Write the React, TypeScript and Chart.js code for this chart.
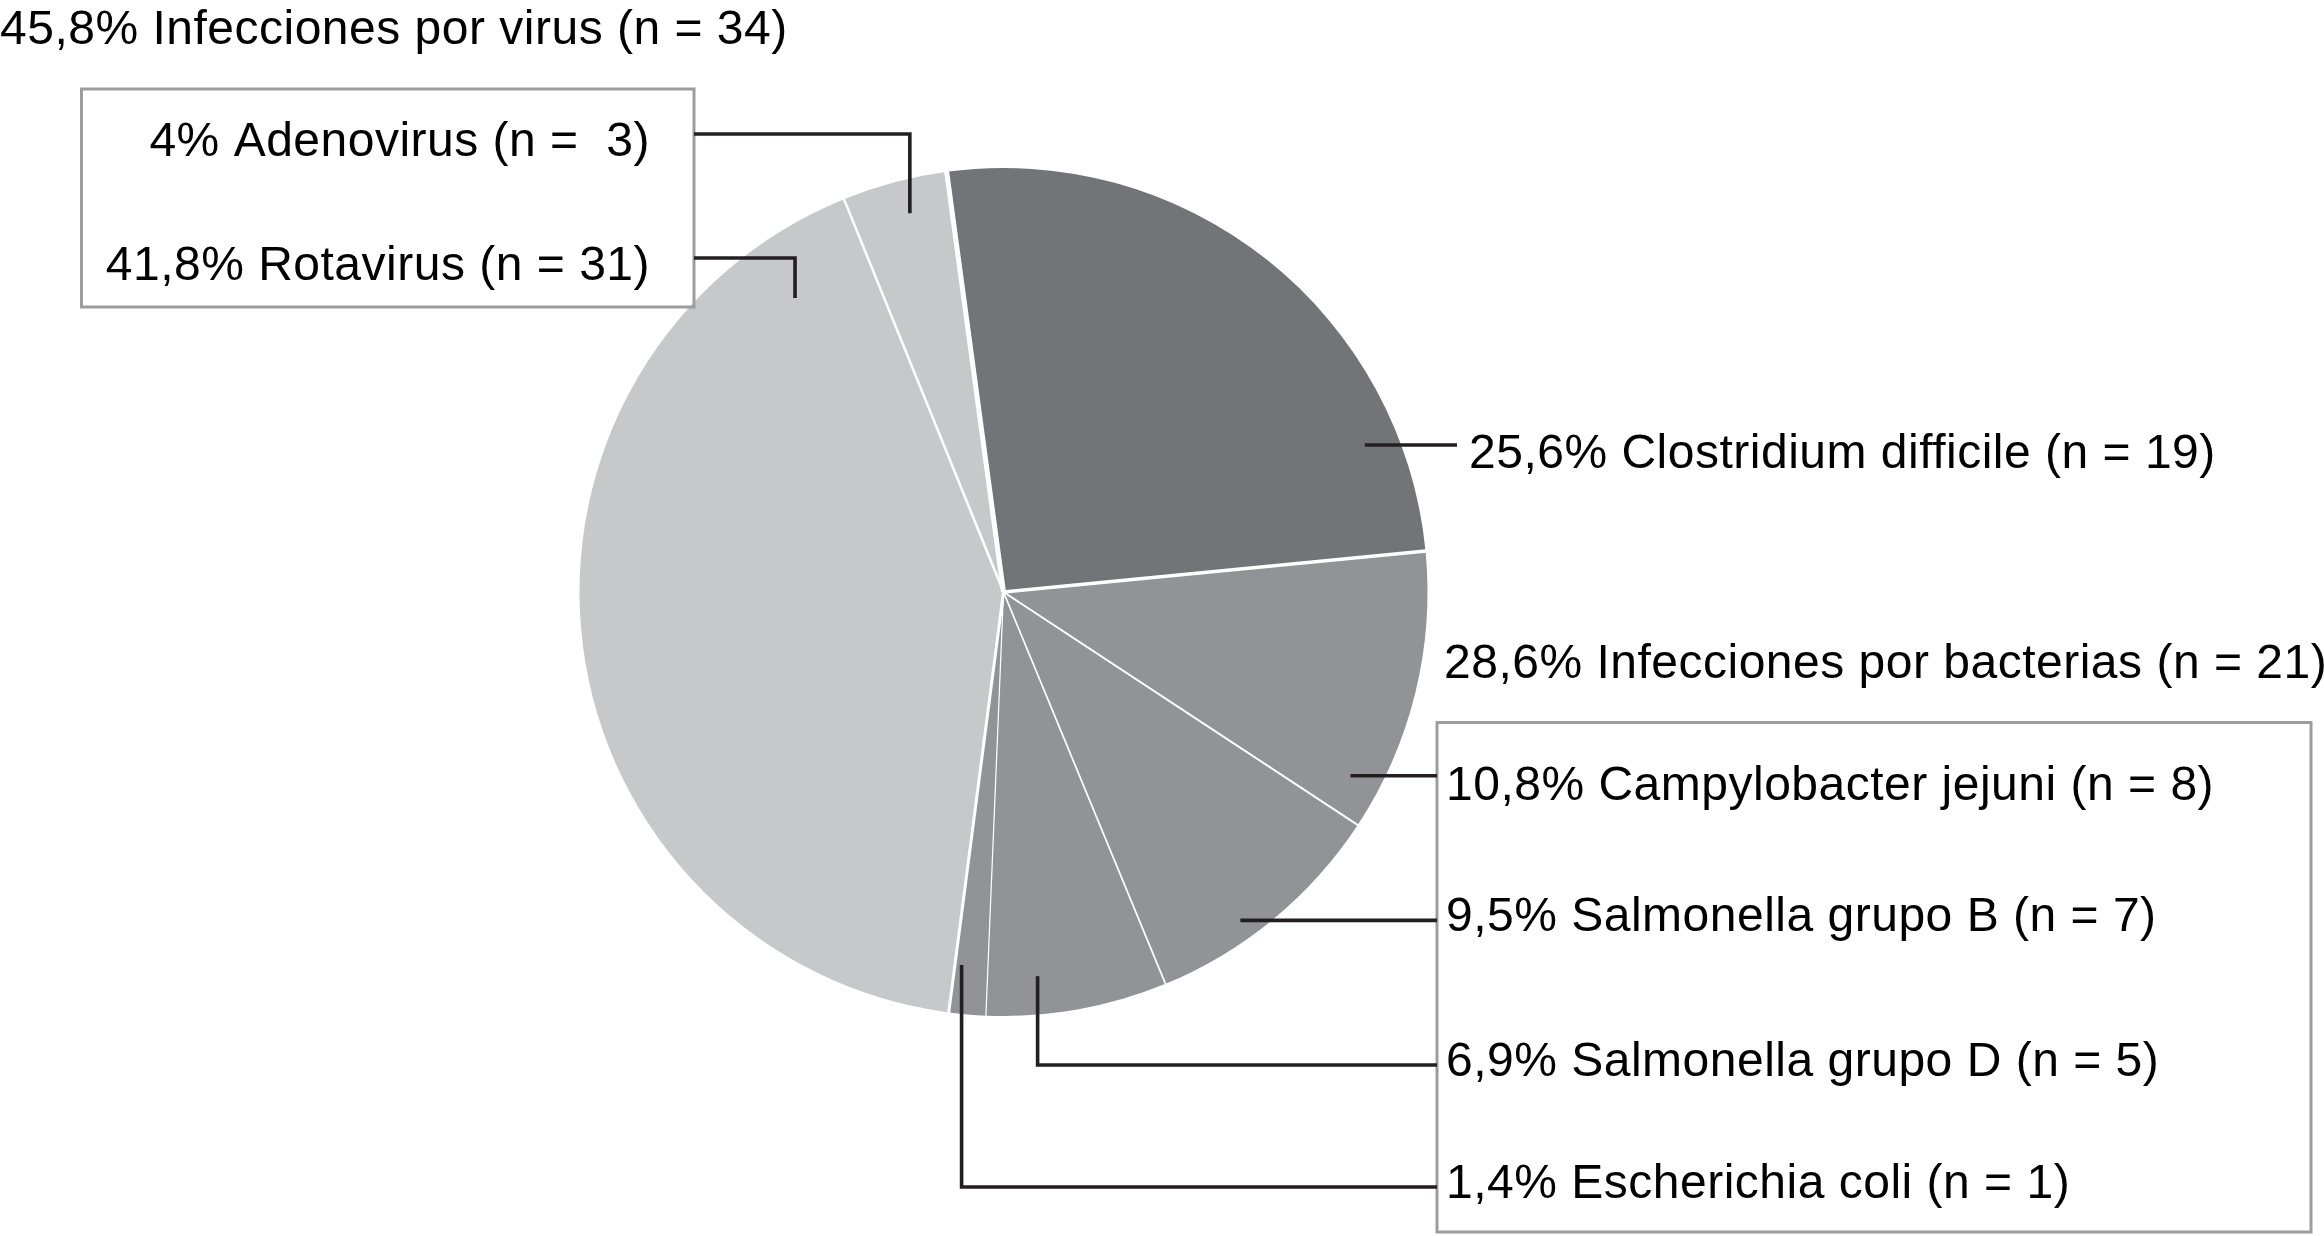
import { useEffect, useRef } from 'react';
import { Chart, registerables } from 'chart.js';

Chart.register(...registerables);

// ---------- DATA ----------
const sliceNames = [
  'Clostridium difficile',
  'Campylobacter jejuni',
  'Salmonella grupo B',
  'Salmonella grupo D',
  'Escherichia coli',
  'Rotavirus',
  'Adenovirus',
];
const slicePercents = [25.6, 10.8, 9.5, 6.9, 1.4, 41.8, 4];
const sliceCounts = [19, 8, 7, 5, 1, 31, 3];
const sliceGroups = ['clostridium', 'bacteria', 'bacteria', 'bacteria', 'bacteria', 'virus', 'virus'];
const groupKeys = ['virus', 'bacteria'];
const groupNames = ['Infecciones por virus', 'Infecciones por bacterias'];

// ---------- STYLE / LAYOUT ----------
const CANVAS_W = 2324;
const CANVAS_H = 1236;
const PIE_RADIUS = 424;
const ROTATION = -7.7;
const sliceColors = ['#737478', '#929397', '#929397', '#929397', '#929397', '#c7c8ca', '#c7c8ca'];
const separatorWidths = [5, 3.5, 2, 1.7, 1.2, 3, 2.5];
const FONT = '48px "Liberation Sans", Arial, Helvetica, sans-serif';
const LETTER_SPACING = '0.5px';
const TEXT_COLOR = '#000000';
const LEADER_COLOR = '#231f20';
const LEADER_WIDTH = 3.6;
const BOX_COLOR = '#9d9d9d';
const BOX_WIDTH = 3;

type Leader = {
  t: number; // fraction along slice angular span
  rf: number; // fraction of radius
  route: 'h' | 'vh';
  lineY?: number;
  lineEndX: number;
  textX: number;
  textY: number;
  align: CanvasTextAlign;
};

const leaderLayout: Leader[] = [
  { t: 0.82, rf: 0.92, route: 'h', lineEndX: 1457, textX: 1469, textY: 468, align: 'left' },
  { t: 0.86, rf: 0.926, route: 'h', lineEndX: 1437, textX: 1446, textY: 800, align: 'left' },
  { t: 0.61, rf: 0.955, route: 'h', lineEndX: 1437, textX: 1446, textY: 931, align: 'left' },
  { t: 0.7, rf: 0.91, route: 'vh', lineY: 1065, lineEndX: 1437, textX: 1446, textY: 1076, align: 'left' },
  { t: 0.8, rf: 0.885, route: 'vh', lineY: 1187, lineEndX: 1437, textX: 1446, textY: 1198, align: 'left' },
  { t: 0.912, rf: 0.85, route: 'vh', lineY: 258, lineEndX: 694, textX: 650, textY: 280, align: 'right' },
  { t: 0.57, rf: 0.92, route: 'vh', lineY: 134, lineEndX: 694, textX: 650, textY: 156, align: 'right' },
];

const groupTitleLayout = [
  { x: 0, y: 44 },
  { x: 1444, y: 678 },
];
const groupBoxLayout = [
  { x0: 81.5, y0: 89, x1: 694, y1: 307 },
  { x0: 1437, y0: 722.5, x1: 2311, y1: 1232 },
];

const fmt = (v: number) => String(Math.round(v * 10) / 10).replace('.', ',');

function sliceLabel(i: number): string {
  const n = sliceGroups[i] === 'virus' ? String(sliceCounts[i]).padStart(2, ' ') : String(sliceCounts[i]);
  return `${fmt(slicePercents[i])}% ${sliceNames[i]} (n = ${n})`;
}

function groupLabel(g: number): string {
  const key = groupKeys[g];
  let p = 0;
  let n = 0;
  sliceGroups.forEach((sg, i) => {
    if (sg === key) {
      p += slicePercents[i];
      n += sliceCounts[i];
    }
  });
  return `${fmt(p)}% ${groupNames[g]} (n = ${n})`;
}

const annotationPlugin = {
  id: 'annotations',
  afterDatasetsDraw(chart: any) {
    const ctx: CanvasRenderingContext2D = chart.ctx;
    const meta = chart.getDatasetMeta(0);
    const arcs = meta.data as any[];
    ctx.save();

    // white separators between slices
    arcs.forEach((arc, i) => {
      const a = arc.startAngle;
      const R = arc.outerRadius + 3;
      ctx.beginPath();
      ctx.strokeStyle = '#ffffff';
      ctx.lineWidth = separatorWidths[i];
      ctx.lineCap = 'butt';
      ctx.moveTo(arc.x, arc.y);
      ctx.lineTo(arc.x + R * Math.cos(a), arc.y + R * Math.sin(a));
      ctx.stroke();
    });

    // group boxes
    ctx.strokeStyle = BOX_COLOR;
    ctx.lineWidth = BOX_WIDTH;
    groupBoxLayout.forEach((b) => {
      ctx.strokeRect(b.x0, b.y0, b.x1 - b.x0, b.y1 - b.y0);
    });

    // leader lines
    ctx.strokeStyle = LEADER_COLOR;
    ctx.lineWidth = LEADER_WIDTH;
    ctx.lineCap = 'butt';
    ctx.lineJoin = 'miter';
    arcs.forEach((arc, i) => {
      const L = leaderLayout[i];
      const a = arc.startAngle + (arc.endAngle - arc.startAngle) * L.t;
      const r = arc.outerRadius * L.rf;
      const ax = arc.x + r * Math.cos(a);
      const ay = arc.y + r * Math.sin(a);
      ctx.beginPath();
      ctx.moveTo(ax, ay);
      if (L.route === 'h') {
        ctx.lineTo(L.lineEndX, ay);
      } else {
        ctx.lineTo(ax, L.lineY as number);
        ctx.lineTo(L.lineEndX, L.lineY as number);
      }
      ctx.stroke();
    });

    // texts
    ctx.fillStyle = TEXT_COLOR;
    ctx.font = FONT;
    (ctx as any).letterSpacing = LETTER_SPACING;
    ctx.textBaseline = 'alphabetic';
    arcs.forEach((_arc, i) => {
      const L = leaderLayout[i];
      ctx.textAlign = L.align;
      ctx.fillText(sliceLabel(i), L.textX, L.textY);
    });
    groupTitleLayout.forEach((p, g) => {
      ctx.textAlign = 'left';
      ctx.fillText(groupLabel(g), p.x, p.y);
    });
    ctx.restore();
  },
};

export default function App() {
  const canvasRef = useRef<HTMLCanvasElement | null>(null);

  useEffect(() => {
    if (!canvasRef.current) return;
    const chart = new Chart(canvasRef.current, {
      type: 'pie',
      data: {
        labels: sliceNames,
        datasets: [
          {
            data: slicePercents,
            backgroundColor: sliceColors,
            borderWidth: 0,
            radius: PIE_RADIUS,
          } as any,
        ],
      },
      options: {
        animation: false,
        responsive: true,
        maintainAspectRatio: false,
        rotation: ROTATION,
        events: [],
        layout: { padding: { left: 0, right: 317, top: 0, bottom: 52 } },
        plugins: {
          legend: { display: false },
          tooltip: { enabled: false },
        },
      } as any,
      plugins: [annotationPlugin],
    });
    return () => chart.destroy();
  }, []);

  return (
    <div
      style={{
        position: 'absolute',
        left: 0,
        top: 0,
        width: CANVAS_W,
        height: CANVAS_H,
        background: '#ffffff',
      }}
    >
      <canvas ref={canvasRef} />
    </div>
  );
}
